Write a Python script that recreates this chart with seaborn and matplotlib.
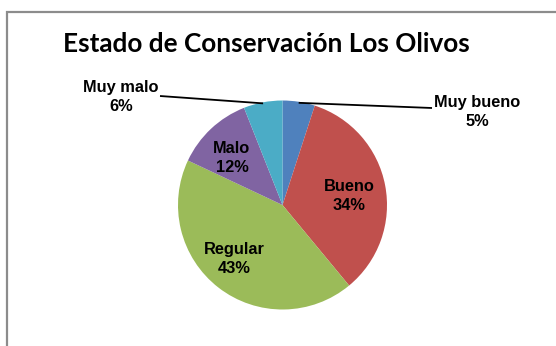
import matplotlib
matplotlib.use("Agg")
import matplotlib.pyplot as plt
import seaborn as sns
from matplotlib.patches import Rectangle
import numpy as np

categories = ["Muy bueno", "Bueno", "Regular", "Malo", "Muy malo"]
values = [5, 34, 43, 12, 6]
colors = ["#4F81BD", "#C0504D", "#9BBB59", "#8064A2", "#4BACC6"]
title = "Estado de Conservación Los Olivos"

sns.set_theme(style="white")
W, H = 556, 346
fig = plt.figure(figsize=(W / 100, H / 100), dpi=100)
fig.patch.set_facecolor("white")

# pie geometry in pixels
cx, cy, R = 282.5, 205.0, 104.5

ax = fig.add_axes([0, 0, 1, 1])
ax.pie(values, colors=colors, startangle=90, counterclock=False,
       radius=1.0, wedgeprops=dict(linewidth=0))
ax.set_xlim(-cx / R, (W - cx) / R)
ax.set_ylim(-(H - cy) / R, cy / R)
ax.set_aspect("auto")
ax.axis("off")


def px(x, y):
    return ((x - cx) / R, (cy - y) / R)


lab_font = dict(family=["Liberation Sans Narrow", "Liberation Sans", "DejaVu Sans"],
                fontweight="bold", fontsize=11.8, color="black",
                ha="center", va="center", linespacing=1.32)

# wedge mid angles
cum = np.cumsum([0] + values[:-1])
mids = [90 - (c + v / 2) * 3.6 for c, v in zip(cum, values)]

# inside labels positions (px)
inside = {"Bueno": (349, 196), "Regular": (234, 259), "Malo": (232, 158)}
for cat, v in zip(categories, values):
    if cat in inside:
        x, y = px(*inside[cat])
        ax.text(x, y, f"{cat}\n{v}%", **lab_font)

# outside labels with leader lines
outside = {"Muy bueno": ((477, 112), (432, 108)),
           "Muy malo": ((121, 97), (160, 96))}
for cat, v, m in zip(categories, values, mids):
    if cat in outside:
        (lx, ly), (ex, ey) = outside[cat]
        a = np.deg2rad(m)
        sx, sy = np.cos(a) * 0.99, np.sin(a) * 0.99
        tx, ty = px(ex, ey)
        ax.plot([sx, tx], [sy, ty], color="black", lw=1.3, solid_capstyle="butt")
        x, y = px(lx, ly)
        ax.text(x, y, f"{cat}\n{v}%", **lab_font)

fig.text(266.5 / W, 1 - 44 / H, title, ha="center", va="center", color="black",
         fontsize=18.8, fontweight="bold", family=["Lato", "DejaVu Sans"])

fig.add_artist(Rectangle((6.5 / W, -0.2), 1.2, 1.2 - 11.5 / H, transform=fig.transFigure,
                         fill=False, edgecolor="#8c8c8c", linewidth=1.6))

fig.savefig("out.png", dpi=100, facecolor="white")
